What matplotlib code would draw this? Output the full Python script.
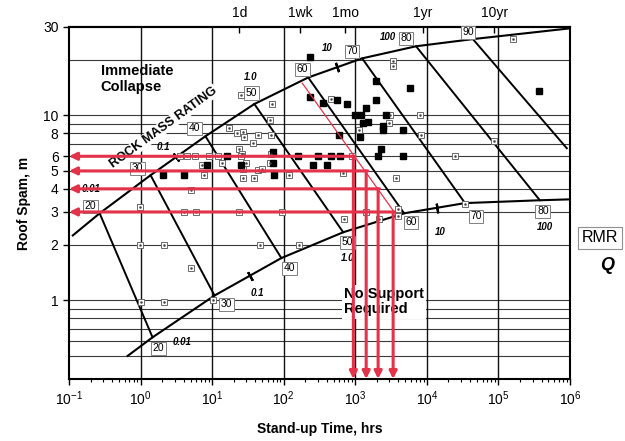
import matplotlib
matplotlib.use("Agg")
import matplotlib.pyplot as plt
import numpy as np
from matplotlib.ticker import FixedLocator, NullLocator, LogLocator, NullFormatter, FixedFormatter

plt.rcParams['font.family'] = ['Liberation Sans', 'DejaVu Sans']
plt.rcParams['mathtext.fontset'] = 'custom'
plt.rcParams['mathtext.rm'] = 'Liberation Sans'
plt.rcParams['mathtext.it'] = 'Liberation Sans:italic'
plt.rcParams['mathtext.bf'] = 'Liberation Sans:bold'

# RMR lines: point on the upper (collapse) curve and on the lower (no support) curve
rmr = ['20', '30', '40', '50', '60', '70', '80', '90']
rmr_top_x = [0.268, 1.38, 8.06, 38.9, 220, 1248, 7066, 44000]
rmr_top_y = [2.95, 4.74, 7.70, 11.5, 16.0, 20.3, 23.6, 25.8]
rmr_bot_x = [1.47, 10.8, 92.7, 678, 4810, 34100, 379000, 902000]
rmr_bot_y = [0.63, 1.06, 1.69, 2.33, 2.95, 3.35, 3.47, 6.63]

# curve ends
upper_start = (0.113, 2.24)
upper_end = (1e6, 29.5)
lower_start = (0.66, 0.50)
lower_end = (1e6, 3.51)

# RMR label boxes
top_lab_x = [0.201, 0.91, 5.66, 35.3, 182, 905, 5130, 37600]
top_lab_y = [3.22, 5.17, 8.5, 13.2, 17.7, 22.2, 26.1, 28.1]
bot_lab_x = [1.78, 15.8, 120, 771, 6020, 48500, 417000]
bot_lab_y = [0.55, 0.95, 1.49, 2.06, 2.64, 2.84, 3.03]

# Q labels
q_text = ['0.01', '0.1', '1.0', '10', '100']
q_top_x = [0.201, 2.1, 34.2, 406, 2875]
q_top_y = [3.98, 6.7, 16.0, 23.0, 26.4]
q_bot_x = [3.85, 42.8, 771, 15300, 446000]
q_bot_y = [0.593, 1.09, 1.69, 2.33, 2.48]

# Q tick marks on the curves
qtick_x = [3.1, 560, 34.2, 13900]
qtick_y = [5.95, 18.2, 1.36, 3.16]
qtick_ang = [35, 19, 29, 9]

# case histories
filled_x = [235, 1955, 5830, 367000, 230, 357, 560, 771, 1955, 1420, 997, 1208, 2700,
            1290, 1514, 2450, 2450, 4660, 1170, 596, 2296, 2085, 4660, 160, 304, 461, 615,
            259, 406, 16.3, 8.6, 25, 71.6, 71.6, 2.03, 4.0, 74]
filled_y = [20.6, 15.3, 14.0, 13.5, 12.5, 11.6, 12.1, 11.5, 12.1, 10.9, 10.0, 10.0, 10.0,
            9.05, 9.2, 8.7, 8.35, 8.35, 7.65, 7.8, 6.55, 6.0, 6.0, 6.0, 6.0, 6.0, 6.0,
            5.4, 5.4, 6.0, 5.4, 5.4, 6.35, 5.53, 4.77, 4.77, 4.77]

open_x = [159000, 3380, 3380, 8040, 8300, 86500, 24700, 34100, 461, 3070, 1133, 2970, 905,
          678, 3720, 65, 17.4, 22.5, 27.3, 28.2, 44.2, 67, 37.7, 24, 26.5, 67,
          3.6, 4.4, 5.85, 8.9, 11.9, 25, 30, 7.3, 13.9, 65, 27.3, 44.2, 50.3, 27.3, 38.9,
          7.8, 120, 5.0, 0.97, 4.0, 6.0, 24, 95.5, 700, 3965, 3965, 1420, 2153,
          0.97, 2.1, 47.2, 165, 5.1, 1.0, 2.1, 10.4, 25, 69.3]
open_y = [25.8, 19.6, 18.4, 10.0, 7.8, 7.3, 6.0, 3.3, 12.2, 10.0, 8.35, 9.05, 6.0,
          4.9, 4.6, 9.4, 8.5, 8.0, 8.1, 7.65, 7.8, 7.8, 7.06, 6.55, 6.15, 6.2,
          6.0, 6.0, 6.0, 6.0, 6.0, 6.0, 5.53, 5.4, 5.53, 5.53, 5.14, 5.04, 5.14, 4.6, 4.6,
          4.77, 4.77, 3.95, 3.18, 3.0, 3.0, 3.0, 3.0, 2.76, 3.1, 2.85, 3.0, 2.76,
          2.0, 2.0, 2.0, 2.0, 1.49, 0.98, 0.98, 1.0, 12.8, 11.5]

# worked example: spans and resulting stand-up times
span = [6, 5, 4, 3]
standup = [940, 1420, 2085, 3380]
guide_x = [182, 3600]
guide_y = [14.9, 2.95]

grid_y = [0.5, 0.6, 0.7, 0.8, 0.9, 1, 2, 3, 4, 5, 6, 7, 8, 9, 10, 20]
grid_x = [1, 10, 100, 1000, 1e4, 1e5]
x_ticks = [0.1, 1, 10, 100, 1000, 1e4, 1e5, 1e6]
x_labels = ['$10^{-1}$', '$10^{0}$', '$10^{1}$', '$10^{2}$', '$10^{3}$',
            '$10^{4}$', '$10^{5}$', '$10^{6}$']
y_ticks = [1, 2, 3, 4, 5, 6, 8, 10, 30]
top_ticks = [24, 168, 720, 8760, 87600]
top_labels = ['1d', '1wk', '1mo', '1yr', '10yr']

red = '#e3324a'
ymin, ymax = 0.375, 30

fig = plt.figure(figsize=(6.25, 4.41), dpi=100)
ax = fig.add_axes([0.1104, 0.1406, 0.8016, 0.7982])
ax.set_xscale('log')
ax.set_yscale('log')
ax.set_xlim(0.1, 1e6)
ax.set_ylim(ymin, ymax)

for g in grid_y:
    ax.axhline(g, color='#3a3a3a', lw=0.8, zorder=1)
for g in grid_x:
    ax.axvline(g, color='#111111', lw=1.0, zorder=1)

# boundary curves
ux = [upper_start[0]] + rmr_top_x + [upper_end[0]]
uy = [upper_start[1]] + rmr_top_y + [upper_end[1]]
lx = [lower_start[0]] + rmr_bot_x[:7] + [lower_end[0]]
ly = [lower_start[1]] + rmr_bot_y[:7] + [lower_end[1]]
ax.plot(ux, uy, color='black', lw=1.5, zorder=3)
ax.plot(lx, ly, color='black', lw=1.5, zorder=3)

for i in range(len(rmr)):
    ax.plot([rmr_top_x[i], rmr_bot_x[i]], [rmr_top_y[i], rmr_bot_y[i]],
            color='black', lw=1.4, zorder=3)

for xx, yy, a in zip(qtick_x, qtick_y, qtick_ang):
    ax.plot(xx, yy, marker=(2, 2, a), ms=7, mew=1.6, color='black', zorder=3)

# data points
ax.plot(open_x, open_y, 's', ms=4.5, mfc='white', mec='#6a6a6a', mew=0.7, zorder=4)
ax.plot(open_x, open_y, '.', ms=1.6, color='#444444', zorder=5)
ax.plot(filled_x, filled_y, 's', ms=4.0, color='black', zorder=4)

box = dict(boxstyle='square,pad=0.15', fc='white', ec='#808080', lw=0.7)
for xx, yy, s in zip(top_lab_x, top_lab_y, rmr):
    ax.text(xx, yy, s, fontsize=7.5, ha='center', va='center', bbox=box, zorder=6)
for xx, yy, s in zip(bot_lab_x, bot_lab_y, rmr[:7]):
    ax.text(xx, yy, s, fontsize=7.5, ha='center', va='center', bbox=box, zorder=6)
for xx, yy, s in zip(q_top_x, q_top_y, q_text):
    ax.text(xx, yy, s, fontsize=7, fontweight='bold', style='italic',
            ha='center', va='center', zorder=6)
for xx, yy, s in zip(q_bot_x, q_bot_y, q_text):
    ax.text(xx, yy, s, fontsize=7, fontweight='bold', style='italic',
            ha='center', va='center', zorder=6)

ax.text(0.277, 15.7, 'Immediate\nCollapse', fontsize=10.5, fontweight='bold',
        ha='left', va='center', linespacing=1.15, zorder=6)
ax.text(2.1, 8.6, 'ROCK MASS RATING', fontsize=9.2, fontweight='bold', rotation=36,
        ha='center', va='center', zorder=5,
        bbox=dict(boxstyle='square,pad=0.05', fc='white', ec='none'))
ax.text(700, 0.98, 'No Support\nRequired', fontsize=10.5, fontweight='bold',
        ha='left', va='center', linespacing=1.1, zorder=5,
        bbox=dict(boxstyle='square,pad=0.15', fc='white', ec='none'))

# worked example arrows
ax.plot(guide_x, guide_y, color=red, lw=0.9, zorder=7)
arrow = dict(arrowstyle='-|>', color=red, lw=2.2, mutation_scale=11, shrinkA=0, shrinkB=0)
for s, t in zip(span, standup):
    ax.annotate('', xy=(0.1, s), xytext=(t * 1.05, s), arrowprops=arrow, zorder=8)
    ax.annotate('', xy=(t, ymin), xytext=(t, s), arrowprops=arrow, zorder=8)

for sp in ax.spines.values():
    sp.set_linewidth(1.5)

ax.yaxis.set_major_locator(FixedLocator(y_ticks))
ax.yaxis.set_minor_locator(NullLocator())
ax.yaxis.set_major_formatter(FixedFormatter([str(v) for v in y_ticks]))
ax.xaxis.set_major_locator(FixedLocator(x_ticks))
ax.xaxis.set_major_formatter(FixedFormatter(x_labels))
ax.xaxis.set_minor_locator(LogLocator(base=10, subs=np.arange(2, 10), numticks=20))
ax.xaxis.set_minor_formatter(NullFormatter())
ax.tick_params(axis='both', which='major', direction='out', length=4, width=1,
               labelsize=10, top=False, right=False)
ax.tick_params(axis='x', which='minor', direction='out', length=2.5, width=0.8, top=False)

secax = ax.secondary_xaxis('top')
secax.set_xticks(top_ticks)
secax.set_xticklabels(top_labels)
secax.xaxis.set_minor_locator(NullLocator())
secax.tick_params(direction='in', length=4, width=1, labelsize=10, pad=5)
secax.spines['top'].set_linewidth(1.5)

ax.set_xlabel('Stand-up Time, hrs', fontsize=10, fontweight='bold', labelpad=10)
ax.set_ylabel('Roof Spam, m', fontsize=10, fontweight='bold', labelpad=9)

fig.text(0.96, 1 - 238 / 441, 'RMR', fontsize=11.5, ha='center', va='center',
         bbox=dict(boxstyle='square,pad=0.25', fc='white', ec='#909090', lw=0.8))
fig.text(0.971, 1 - 266 / 441, 'Q', fontsize=13, fontweight='bold', style='italic',
         ha='center', va='center')

fig.savefig('out.png', dpi=100)
